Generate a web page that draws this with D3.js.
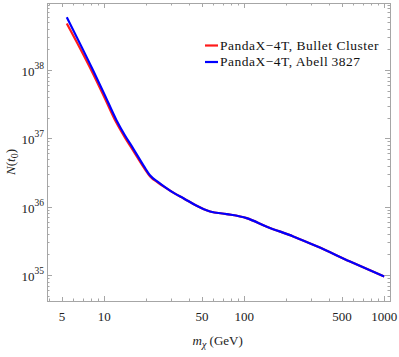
<!DOCTYPE html>
<html lang="en">
<head>
<meta charset="UTF-8">
<title>N(t0) versus dark matter mass</title>
<script src="https://d3js.org/d3.v7.min.js"></script>
<style>
  body { margin: 0; background: #fff; overflow: hidden; }
  svg { display: block; font-family: "Liberation Serif", "DejaVu Serif", serif; }
  .frame { fill: none; stroke: #a6a6a6; stroke-width: 1; }
  .tick { stroke: #a6a6a6; stroke-width: 1; }
  .tlabel { fill: #222; font-size: 13px; }
  .curve { fill: none; stroke-width: 2.2; stroke-linejoin: round; }
</style>
</head>
<body>
<svg width="399" height="357"></svg>
<script>
// values
const massRed  = [5.4, 6.4, 8.3, 10, 12.2, 14, 16.1, 19.5, 21.2, 24.3, 27, 32, 37, 45, 57, 75, 104, 145, 224, 330, 570, 1000];
const nRed     = [4.79e38, 2.51e38, 8.91e37, 4.03e37, 1.7e37, 1.04e37, 6.61e36, 3.55e36, 2.79e36, 2.24e36, 1.93e36,
                  1.55e36, 1.32e36, 1.05e36, 8.5e35, 7.8e35, 6.8e35, 5.1e35, 3.67e35, 2.63e35, 1.58e35, 9.5e34];
const massBlue = [5.4, 6.4, 8.3, 10, 12.2, 14, 16.1, 19.5, 21.2, 24.3, 27, 32, 37, 45, 57, 75, 104, 145, 224, 330, 570, 1000];
const nBlue    = [5.89e38, 2.95e38, 1.0e38, 4.47e37, 1.86e37, 1.12e37, 7.08e36, 3.72e36, 2.88e36, 2.29e36, 1.95e36,
                  1.55e36, 1.32e36, 1.05e36, 8.5e35, 7.8e35, 6.8e35, 5.1e35, 3.67e35, 2.63e35, 1.58e35, 9.5e34];

const seriesNames  = ["PandaX\u22124T,  Bullet Cluster", "PandaX\u22124T,  Abell\u20093827"];
const seriesColors = ["#ff1a1a", "#0000ff"];

const xTickLabels = [5, 10, 50, 100, 500, 1000];
const yTickExponents = [35, 36, 37, 38];

const mLeft = 47, mRight = 390, mTop = 3, mBottom = 301;

const svg = d3.select("svg");

const x = d3.scaleLog().domain([3.9, 1100]).range([mLeft, mRight]);
const y = d3.scaleLog().domain([Math.pow(10, 34.62), Math.pow(10, 38.98)]).range([mBottom, mTop]);

// frame
svg.append("rect").attr("class", "frame")
  .attr("x", mLeft + 0.5).attr("y", mTop + 0.5)
  .attr("width", mRight - mLeft).attr("height", mBottom - mTop);

// x ticks (bottom + top, pointing inward)
const xTicks = [];
[1, 10, 100, 1000].forEach(d => {
  for (let k = 1; k <= 9; k++) {
    const v = k * d;
    if (v >= x.domain()[0] && v <= x.domain()[1]) xTicks.push(v);
  }
});
const xLen = v => (v === 10 || v === 100 || v === 1000) ? 5 : (xTickLabels.includes(v) ? 4 : 2.5);

const gx = svg.append("g");
xTicks.forEach(v => {
  const px = Math.round(x(v)) + 0.5;
  gx.append("line").attr("class", "tick")
    .attr("x1", px).attr("x2", px).attr("y1", mBottom).attr("y2", mBottom - xLen(v));
  gx.append("line").attr("class", "tick")
    .attr("x1", px).attr("x2", px).attr("y1", mTop).attr("y2", mTop + xLen(v));
});
gx.selectAll("text.xl").data(xTickLabels).join("text")
  .attr("class", "tlabel xl")
  .attr("x", d => x(d)).attr("y", 321)
  .attr("text-anchor", "middle")
  .text(d => d);

// y ticks (left + right)
const yTicks = [];
for (let e = 34; e <= 38; e++) {
  for (let k = 1; k <= 9; k++) {
    const v = k * Math.pow(10, e);
    if (v >= y.domain()[0] && v <= y.domain()[1]) yTicks.push({ v, major: k === 1 });
  }
}
const gy = svg.append("g");
yTicks.forEach(t => {
  const py = Math.round(y(t.v)) + 0.5;
  const len = t.major ? 5 : 2.5;
  gy.append("line").attr("class", "tick")
    .attr("x1", mLeft).attr("x2", mLeft + len).attr("y1", py).attr("y2", py);
  gy.append("line").attr("class", "tick")
    .attr("x1", mRight).attr("x2", mRight - len).attr("y1", py).attr("y2", py);
});
yTickExponents.forEach(e => {
  const t = gy.append("text").attr("class", "tlabel")
    .attr("x", 44).attr("y", y(Math.pow(10, e)) + 6)
    .attr("text-anchor", "end");
  t.append("tspan").text("10");
  t.append("tspan").attr("dy", -7).attr("font-size", 9.5).text(e);
});

// curves
const line = d3.line()
  .x(d => x(d[0]))
  .y(d => y(d[1]))
  .curve(d3.curveMonotoneX);

const series = [
  { pts: d3.zip(massRed, nRed), color: seriesColors[0] },
  { pts: d3.zip(massBlue, nBlue), color: seriesColors[1] }
];
svg.append("g").selectAll("path").data(series).join("path")
  .attr("class", "curve")
  .attr("stroke", d => d.color)
  .attr("d", d => line(d.pts));

// legend
const lg = svg.append("g");
seriesNames.forEach((name, i) => {
  const ly = 45.5 + i * 16.5;
  lg.append("line")
    .attr("x1", 205).attr("x2", 218).attr("y1", ly).attr("y2", ly)
    .attr("stroke", seriesColors[i]).attr("stroke-width", 2.2);
  lg.append("text")
    .attr("x", 220).attr("y", ly + 4)
    .attr("font-size", 13.5).attr("letter-spacing", 0.5).attr("fill", "#111")
    .text(name);
});

// axis titles
const xt = svg.append("text").attr("class", "tlabel")
  .attr("x", 192.5).attr("y", 345).attr("font-size", 14);
xt.append("tspan").attr("font-style", "italic").text("m");
xt.append("tspan").attr("font-style", "italic").attr("font-size", 10).attr("dy", 3).text("\u03c7");
xt.append("tspan").attr("dy", -3).text(" (GeV)");

const yt = svg.append("text").attr("class", "tlabel")
  .attr("transform", "translate(15,162) rotate(-90)")
  .attr("text-anchor", "middle").attr("font-size", 14);
yt.append("tspan").attr("font-style", "italic").text("N");
yt.append("tspan").text("(");
yt.append("tspan").attr("font-style", "italic").text("t");
yt.append("tspan").attr("font-size", 10).attr("dy", 3).text("0");
yt.append("tspan").attr("dy", -3).text(")");
</script>
</body>
</html>
